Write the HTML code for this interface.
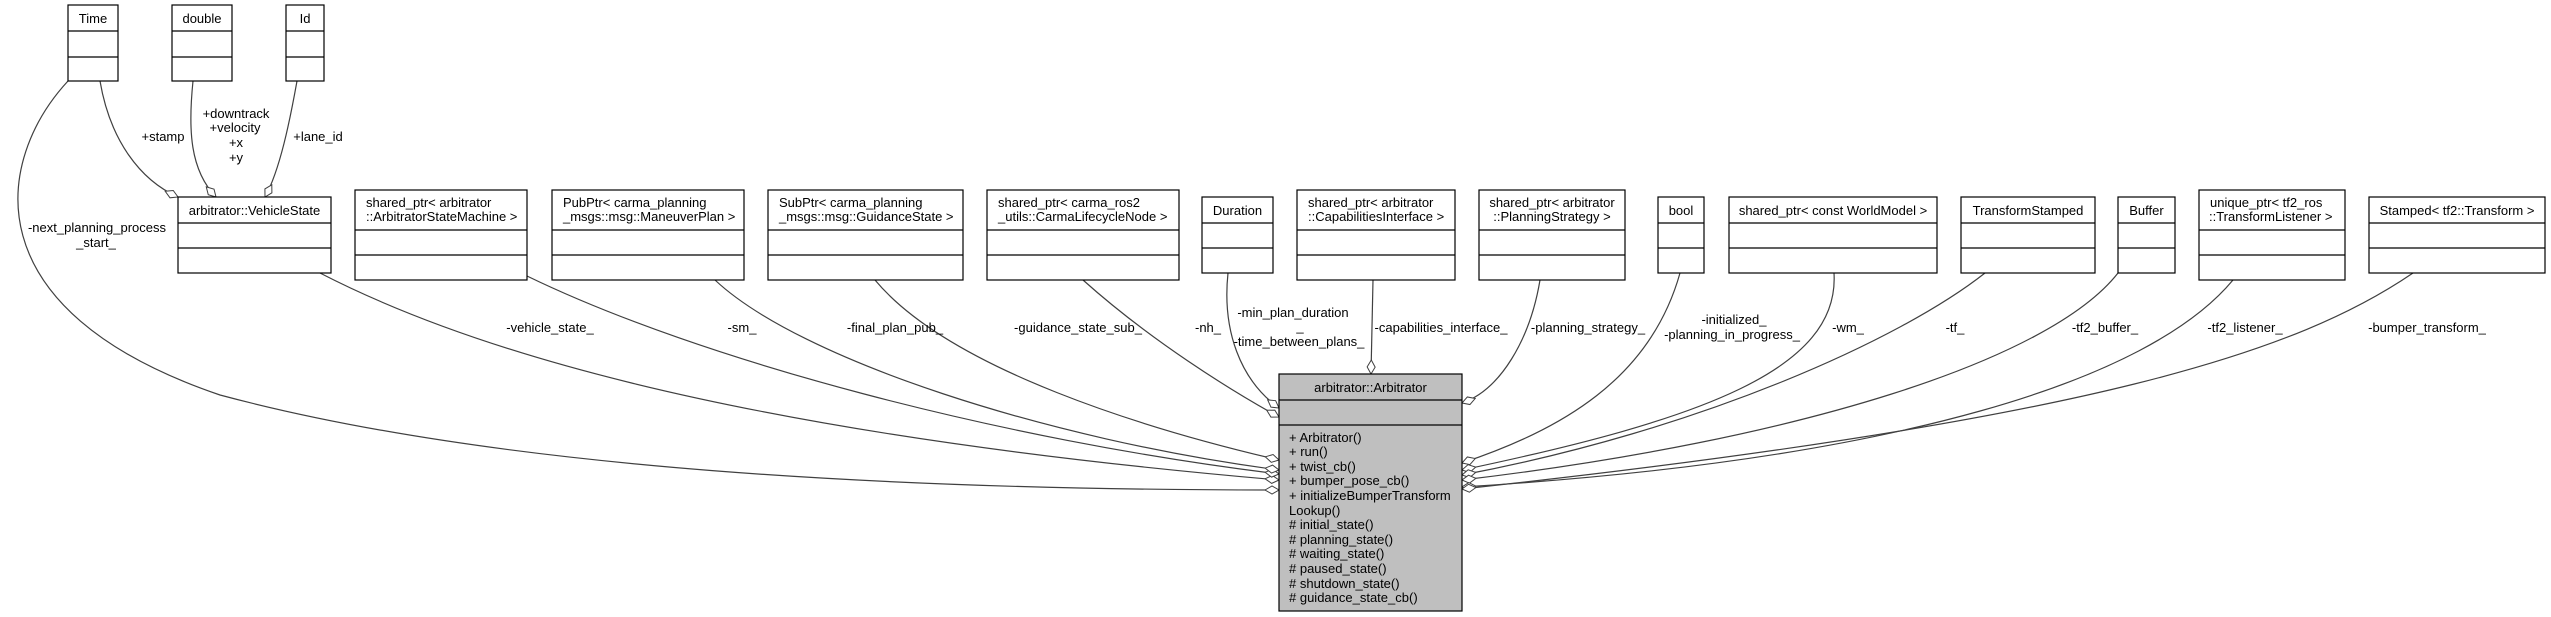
<!DOCTYPE html>
<html><head><meta charset="utf-8"><style>
html,body{margin:0;padding:0;background:#fff;}
svg{display:block;font-family:"Liberation Sans",Arial,sans-serif;font-size:13px;}
</style></head><body>
<svg width="2551" height="617" viewBox="0 0 2551 617" xmlns="http://www.w3.org/2000/svg">
<defs>
<marker id="d" markerUnits="userSpaceOnUse" markerWidth="16" markerHeight="12" viewBox="0 0 16 12" refX="15" refY="6" orient="auto">
<path d="M1,6 L8,2 L15,6 L8,10 Z" fill="#fff" stroke="#404040" stroke-width="1"/>
</marker>
</defs>
<g fill="none" stroke="#404040" stroke-width="1.2" marker-end="url(#d)">
<path d="M68,81 C -5,160 -30,310 220,395 C 500,470 900,490 1279,490"/>
<path d="M100,81 C 110,140 140,180 178,197"/>
<path d="M193,81 C 188,130 190,170 216,197"/>
<path d="M297,81 C 290,120 280,170 265,197"/>
<path d="M320,273 C 450,340 700,430 1279,480"/>
<path d="M527,276 C 700,360 1000,440 1279,474"/>
<path d="M715,280 C 800,360 1050,440 1279,470"/>
<path d="M875,280 C 950,370 1150,430 1279,460"/>
<path d="M1083,280 C 1150,340 1230,390 1279,417"/>
<path d="M1228,273 C 1222,330 1240,380 1279,408"/>
<path d="M1373,280 L1371,374"/>
<path d="M1540,280 C 1530,340 1500,390 1462,403"/>
<path d="M1680,273 C 1650,380 1560,430 1462,463"/>
<path d="M1834,273 C 1840,370 1700,420 1462,470"/>
<path d="M1985,273 C 1900,340 1700,430 1462,475"/>
<path d="M2118,273 C 2050,360 1800,440 1462,480"/>
<path d="M2233,280 C 2150,380 1900,460 1462,487"/>
<path d="M2413,273 C 2300,350 2100,420 1462,489"/>
</g>
<g stroke="#000" stroke-width="1.2" fill="#fff">
<rect x="68" y="5" width="50" height="76"/><path d="M68,31H118M68,57H118"/>
<rect x="172" y="5" width="60" height="76"/><path d="M172,31H232M172,57H232"/>
<rect x="286" y="5" width="38" height="76"/><path d="M286,31H324M286,57H324"/>
<rect x="178" y="197" width="153" height="76"/><path d="M178,223H331M178,248H331"/>
<rect x="1202" y="197" width="71" height="76"/><path d="M1202,223H1273M1202,248H1273"/>
<rect x="1658" y="197" width="46" height="76"/><path d="M1658,223H1704M1658,248H1704"/>
<rect x="1729" y="197" width="208" height="76"/><path d="M1729,223H1937M1729,248H1937"/>
<rect x="1961" y="197" width="134" height="76"/><path d="M1961,223H2095M1961,248H2095"/>
<rect x="2118" y="197" width="57" height="76"/><path d="M2118,223H2175M2118,248H2175"/>
<rect x="2369" y="197" width="176" height="76"/><path d="M2369,223H2545M2369,248H2545"/>
<rect x="355" y="190" width="172" height="90"/><path d="M355,230H527M355,255H527"/>
<rect x="552" y="190" width="192" height="90"/><path d="M552,230H744M552,255H744"/>
<rect x="768" y="190" width="195" height="90"/><path d="M768,230H963M768,255H963"/>
<rect x="987" y="190" width="192" height="90"/><path d="M987,230H1179M987,255H1179"/>
<rect x="1297" y="190" width="158" height="90"/><path d="M1297,230H1455M1297,255H1455"/>
<rect x="1479" y="190" width="146" height="90"/><path d="M1479,230H1625M1479,255H1625"/>
<rect x="2199" y="190" width="146" height="90"/><path d="M2199,230H2345M2199,255H2345"/>
<rect x="1279" y="374" width="183" height="237" fill="#bfbfbf"/><path d="M1279,400H1462M1279,425H1462"/>
</g>
<g fill="#000">
<g text-anchor="middle">
<text x="93" y="23">Time</text>
<text x="202" y="23">double</text>
<text x="305" y="23">Id</text>
<text x="254.5" y="215">arbitrator::VehicleState</text>
<text x="1237.5" y="215">Duration</text>
<text x="1681" y="215">bool</text>
<text x="1833" y="215">shared_ptr&lt; const WorldModel &gt;</text>
<text x="2028" y="215">TransformStamped</text>
<text x="2146.5" y="215">Buffer</text>
<text x="2457" y="215">Stamped&lt; tf2::Transform &gt;</text>
<text x="1552" y="207">shared_ptr&lt; arbitrator</text>
<text x="1552" y="221">::PlanningStrategy &gt;</text>
<text x="1370.5" y="392">arbitrator::Arbitrator</text>
<text x="163" y="141">+stamp</text>
<text x="236" y="118">+downtrack</text>
<text x="235" y="132">+velocity</text>
<text x="236" y="147">+x</text>
<text x="236" y="162">+y</text>
<text x="318" y="141">+lane_id</text>
<text x="97" y="232">-next_planning_process</text>
<text x="96" y="247">_start_</text>
<text x="550" y="332">-vehicle_state_</text>
<text x="742" y="332">-sm_</text>
<text x="895" y="332">-final_plan_pub_</text>
<text x="1078" y="332">-guidance_state_sub_</text>
<text x="1208" y="332">-nh_</text>
<text x="1293" y="317">-min_plan_duration</text>
<text x="1300" y="331">_</text>
<text x="1299" y="346">-time_between_plans_</text>
<text x="1441" y="332">-capabilities_interface_</text>
<text x="1588" y="332">-planning_strategy_</text>
<text x="1734" y="324">-initialized_</text>
<text x="1732" y="339">-planning_in_progress_</text>
<text x="1848" y="332">-wm_</text>
<text x="1955" y="332">-tf_</text>
<text x="2105" y="332">-tf2_buffer_</text>
<text x="2245" y="332">-tf2_listener_</text>
<text x="2427" y="332">-bumper_transform_</text>
</g>
<text x="366" y="207">shared_ptr&lt; arbitrator</text>
<text x="366" y="221">::ArbitratorStateMachine &gt;</text>
<text x="563" y="207">PubPtr&lt; carma_planning</text>
<text x="563" y="221">_msgs::msg::ManeuverPlan &gt;</text>
<text x="779" y="207">SubPtr&lt; carma_planning</text>
<text x="779" y="221">_msgs::msg::GuidanceState &gt;</text>
<text x="998" y="207">shared_ptr&lt; carma_ros2</text>
<text x="998" y="221">_utils::CarmaLifecycleNode &gt;</text>
<text x="1308" y="207">shared_ptr&lt; arbitrator</text>
<text x="1308" y="221">::CapabilitiesInterface &gt;</text>
<text x="2210" y="207">unique_ptr&lt; tf2_ros</text>
<text x="2209" y="221">::TransformListener &gt;</text>
<text x="1289" y="442">+ Arbitrator()</text>
<text x="1289" y="456">+ run()</text>
<text x="1289" y="471">+ twist_cb()</text>
<text x="1289" y="485">+ bumper_pose_cb()</text>
<text x="1289" y="500">+ initializeBumperTransform</text>
<text x="1289" y="515">Lookup()</text>
<text x="1289" y="529"># initial_state()</text>
<text x="1289" y="544"># planning_state()</text>
<text x="1289" y="558"># waiting_state()</text>
<text x="1289" y="573"># paused_state()</text>
<text x="1289" y="588"># shutdown_state()</text>
<text x="1289" y="602"># guidance_state_cb()</text>
</g>
</svg>
</body></html>
